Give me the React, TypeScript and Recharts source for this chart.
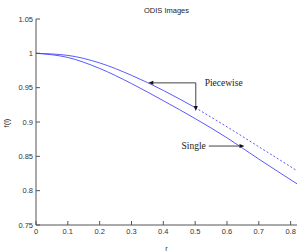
import React from 'react';
import {
  LineChart, Line, XAxis, YAxis, ReferenceLine, ReferenceDot,
} from 'recharts';

// r values and the two f(r) curves
const rValues = [0, 0.1, 0.2, 0.3, 0.4, 0.5, 0.6, 0.7, 0.82];
const singleValues = [1.0, 0.994, 0.978, 0.956, 0.931, 0.905, 0.877, 0.846, 0.81];
const piecewiseValues = [1.0, 0.997, 0.986, 0.968, 0.946, 0.921, 0.893, 0.864, 0.829];
// piecewise drawn solid up to this r, dotted after
const piecewiseSplit = 0.5;

const xTicks = [0, 0.1, 0.2, 0.3, 0.4, 0.5, 0.6, 0.7, 0.8];
const yTicks = [0.75, 0.8, 0.85, 0.9, 0.95, 1, 1.05];

const title = 'ODIS Images';
const xLabel = 'r';
const yLabel = 'f(l)';

// annotation arrows, in data units: [from, to]
const arrows = [
  { from: { x: 0.502, y: 0.957 }, to: { x: 0.353, y: 0.957 } },
  { from: { x: 0.502, y: 0.957 }, to: { x: 0.502, y: 0.916 } },
  { from: { x: 0.543, y: 0.865 }, to: { x: 0.655, y: 0.865 } },
];
const notes = [
  { text: 'Piecewise', x: 0.53, y: 0.957 },
  { text: 'Single', x: 0.457, y: 0.865 },
];

const data = rValues.map((r, i) => ({
  r,
  single: singleValues[i],
  pwSolid: r <= piecewiseSplit ? piecewiseValues[i] : undefined,
  pwDotted: r >= piecewiseSplit ? piecewiseValues[i] : undefined,
}));

const AXIS = '#555';
const BLUE = '#4646ff';
const tickFont = { fontFamily: 'Liberation Sans, Arial, sans-serif', fontSize: 7.5, fill: '#333' };

const ArrowShape = (props: any) => {
  const { x1, y1, x2, y2 } = props;
  if (x1 == null) return null;
  const ang = Math.atan2(y2 - y1, x2 - x1);
  const len = 5;
  const w = 2;
  const bx = x2 - len * Math.cos(ang);
  const by = y2 - len * Math.sin(ang);
  const px = -Math.sin(ang) * w;
  const py = Math.cos(ang) * w;
  return (
    <g>
      <line x1={x1} y1={y1} x2={bx} y2={by} stroke="#444" strokeWidth={1} />
      <polygon points={`${x2},${y2} ${bx + px},${by + py} ${bx - px},${by - py}`} fill="#111" />
    </g>
  );
};

const NoteLabel = (text: string) => (props: any) => {
  const { viewBox } = props;
  if (!viewBox) return null;
  const cx = viewBox.cx ?? viewBox.x;
  const cy = viewBox.cy ?? viewBox.y;
  return (
    <text x={cx} y={cy} dy="0.35em" fontFamily="Liberation Serif, Times New Roman, serif" fontSize={9.5} fill="#222">
      {text}
    </text>
  );
};

export default function App() {
  return (
    <div style={{ position: 'absolute', left: 0, top: 0, width: 307, height: 252, background: '#fff' }}>
      <LineChart width={307} height={252} data={data} margin={{ top: 19, right: 10, left: 0, bottom: 0 }}>
        <XAxis
          xAxisId="b" dataKey="r" type="number" domain={[0, 0.82]} ticks={xTicks} allowDataOverflow
          height={27} tickSize={-4} tickMargin={8} stroke={AXIS} tick={tickFont}
          tickFormatter={(v: number) => String(v)}
          label={{ value: xLabel, position: 'insideBottom', offset: 1, style: { ...tickFont } }}
        />
        <XAxis
          xAxisId="t" orientation="top" dataKey="r" type="number" domain={[0, 0.82]} ticks={xTicks} allowDataOverflow
          height={0} tickSize={-4} stroke={AXIS} tick={false}
        />
        <YAxis
          yAxisId="l" type="number" domain={[0.75, 1.05]} ticks={yTicks} allowDataOverflow
          width={36} tickSize={-4} tickMargin={7} stroke={AXIS} tick={tickFont}
          tickFormatter={(v: number) => String(v)}
        />
        <YAxis
          yAxisId="r" orientation="right" type="number" domain={[0.75, 1.05]} ticks={yTicks} allowDataOverflow
          width={0} tickSize={-4} stroke={AXIS} tick={false}
        />
        <Line xAxisId="b" yAxisId="l" dataKey="single" stroke={BLUE} strokeWidth={0.9} dot={false} type="monotone" isAnimationActive={false} />
        <Line xAxisId="b" yAxisId="l" dataKey="pwSolid" stroke={BLUE} strokeWidth={0.9} dot={false} type="monotone" isAnimationActive={false} />
        <Line xAxisId="b" yAxisId="l" dataKey="pwDotted" stroke={BLUE} strokeWidth={0.9} strokeDasharray="2 2" dot={false} type="monotone" isAnimationActive={false} />
        {arrows.map((a, i) => (
          <ReferenceLine key={i} xAxisId="b" yAxisId="l" segment={[a.from, a.to]} shape={ArrowShape} ifOverflow="visible" />
        ))}
        {notes.map((n, i) => (
          <ReferenceDot key={i} xAxisId="b" yAxisId="l" x={n.x} y={n.y} r={0} stroke="none" fill="none" label={NoteLabel(n.text)} />
        ))}
      </LineChart>
      <div style={{ position: 'absolute', left: 36, width: 261, top: 6, textAlign: 'center', ...tickFont, fontSize: 7.5, color: '#222' }}>
        {title}
      </div>
      <div style={{ position: 'absolute', left: 2, top: 116, width: 14, height: 14, transform: 'rotate(-90deg)', ...tickFont, color: '#222', textAlign: 'center' }}>
        {yLabel}
      </div>
    </div>
  );
}
